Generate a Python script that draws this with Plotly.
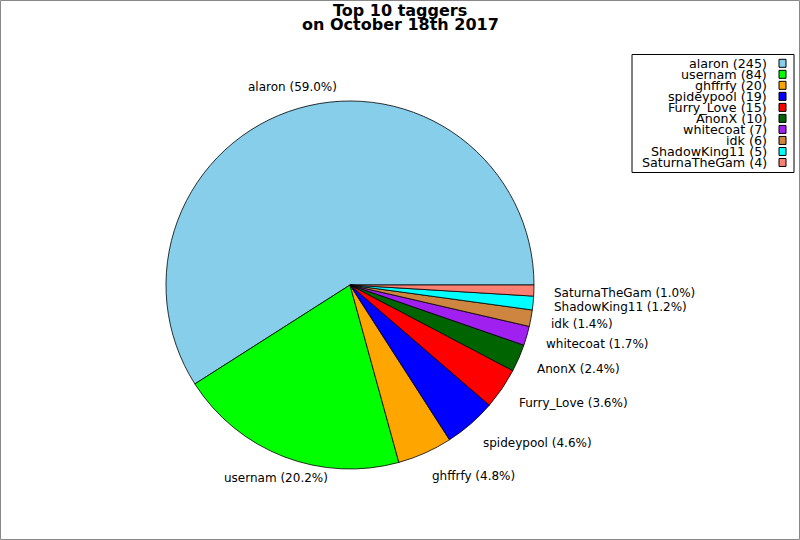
import math
import plotly.graph_objects as go

# ---- data ----
names = ["alaron", "usernam", "ghffrfy", "spideypool", "Furry_Love",
         "AnonX", "whitecoat", "idk", "ShadowKing11", "SaturnaTheGam"]
counts = [245, 84, 20, 19, 15, 10, 7, 6, 5, 4]
colors = ["#87CEEB", "#00FF00", "#FFA500", "#0000FF", "#FF0000",
          "#006400", "#A020F0", "#CD853F", "#00FFFF", "#FA8072"]
title_lines = ["Top 10 taggers", "on October 18th 2017"]

W, H = 800, 540
CX, CY, R = 350, 285, 184
LABEL_R = 206.5
FONT = "DejaVu Sans"

def px(x):
    return x / W

def py(y):
    return 1 - y / H

total = sum(counts)
# plotly's counterclockwise mode ends the first slice at `rotation`;
# we want the first slice to start at 3 o'clock.
rotation = 90 - 360 * counts[0] / total

fig = go.Figure()
fig.add_trace(go.Pie(
    labels=names, values=counts, sort=False,
    direction="counterclockwise", rotation=rotation,
    marker=dict(colors=colors, line=dict(color="black", width=0.8)),
    textinfo="none", showlegend=False, hoverinfo="label+value+percent",
    domain=dict(x=[px(CX - R), px(CX + R)], y=[py(CY + R), py(CY - R)]),
))

annotations = []
shapes = []

# slice labels
cum = 0
for n, v in zip(names, counts):
    theta = 2 * math.pi * (cum + v / 2) / total
    cum += v
    x = CX + LABEL_R * math.cos(theta)
    y = CY - LABEL_R * math.sin(theta)
    pct = 100 * v / total
    if math.cos(theta) > 0:
        anchor = "left"
        x -= 4
        y += 2
    else:
        anchor = "center"
    annotations.append(dict(
        x=px(x), y=py(y), xref="paper", yref="paper",
        text=f"{n} ({pct:.1f}%)", showarrow=False,
        xanchor=anchor, yanchor="middle",
        font=dict(family=FONT, size=12, color="black"),
    ))

# title
for i, t in enumerate(title_lines):
    annotations.append(dict(
        x=px(400), y=py(10.5 + 14.5 * i), xref="paper", yref="paper",
        text=f"<b>{t}</b>", showarrow=False, xanchor="center", yanchor="middle",
        font=dict(family=FONT, size=16, color="black"),
    ))

# legend (manual, swatch on the right)
LX0, LX1, LY0, LY1 = 632, 794, 54.5, 172.5
ROW0, PITCH = 63.3, 11.02
shapes.append(dict(type="rect", xref="paper", yref="paper",
                   x0=px(LX0), x1=px(LX1), y0=py(LY0), y1=py(LY1),
                   line=dict(color="black", width=1), fillcolor="white"))
for i, (n, v, c) in enumerate(zip(names, counts, colors)):
    yc = ROW0 + PITCH * i
    shapes.append(dict(type="rect", xref="paper", yref="paper",
                       x0=px(779), x1=px(786), y0=py(yc - 4), y1=py(yc + 4),
                       line=dict(color="black", width=1), fillcolor=c))
    annotations.append(dict(
        x=px(768), y=py(yc), xref="paper", yref="paper",
        text=f"{n} ({v})", showarrow=False, xanchor="right", yanchor="middle",
        borderpad=0,
        font=dict(family=FONT, size=12.7, color="black"),
    ))

# image border
shapes.append(dict(type="rect", xref="paper", yref="paper",
                   x0=px(0.5), x1=px(W - 0.5), y0=py(H - 0.5), y1=py(0.5),
                   line=dict(color="#888888", width=1), layer="above"))

fig.update_layout(
    width=W, height=H, margin=dict(l=0, r=0, t=0, b=0),
    paper_bgcolor="white", plot_bgcolor="white",
    annotations=annotations, shapes=shapes, showlegend=False,
)
fig.write_html("out.html", config={"displayModeBar": False},
               post_script="document.body.style.margin='0';")
